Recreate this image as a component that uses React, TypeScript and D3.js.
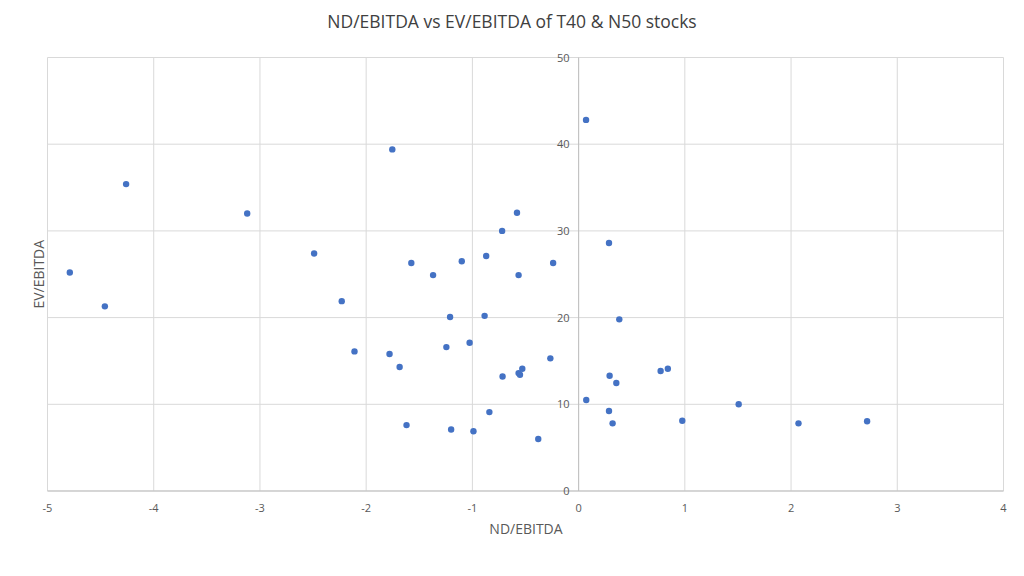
import React from "react";
import * as d3 from "d3";

const ndEbitda = [
  -4.79, -4.46, -4.26, -3.12, -2.49, -2.23, -2.11, -1.754, -1.575, -1.37,
  -1.1, -0.87, -0.58, -0.72, -0.565, -0.24, -1.21, -0.885, -1.78, -1.685,
  -1.245, -1.026, -0.266, -0.53, -0.565, -0.552, -0.716, -0.84, -1.62, -1.2,
  -0.99, -0.38, 0.07, 0.072, 0.286, 0.383, 0.292, 0.355, 0.286, 0.32,
  0.772, 0.84, 0.976, 1.507, 2.07, 2.716,
];
const evEbitda = [
  25.2, 21.3, 35.4, 32.0, 27.4, 21.9, 16.1, 39.4, 26.3, 24.9,
  26.5, 27.1, 32.1, 30.0, 24.9, 26.3, 20.07, 20.2, 15.8, 14.3,
  16.6, 17.1, 15.3, 14.1, 13.6, 13.4, 13.2, 9.1, 7.6, 7.1,
  6.9, 6.0, 42.8, 10.5, 28.6, 19.8, 13.3, 12.45, 9.23, 7.8,
  13.84, 14.1, 8.1, 10.0, 7.8, 8.04,
];
const xTicks = [-5, -4, -3, -2, -1, 0, 1, 2, 3, 4];
const yTicks = [0, 10, 20, 30, 40, 50];

const title = "ND/EBITDA vs EV/EBITDA of T40 & N50 stocks";
const xTitle = "ND/EBITDA";
const yTitle = "EV/EBITDA";

export default function App() {
  const W = 1024;
  const H = 576;
  const x = d3.scaleLinear().domain([-5, 4]).range([47.5, 1003.5]);
  const y = d3.scaleLinear().domain([0, 50]).range([491, 57.5]);
  const font = "'Open Sans', 'Noto Sans', sans-serif";
  const points = ndEbitda.map((v, i) => ({ x: v, y: evEbitda[i] }));
  return (
    <svg
      width={W}
      height={H}
      style={{ position: "absolute", left: 0, top: 0, background: "#fff" }}
      fontFamily={font}
    >
      <rect width={W} height={H} fill="#fff" />
      <text x={512} y={28} textAnchor="middle" fontSize={17.5} fill="#404040" fontWeight={400}>
        {title}
      </text>
      {xTicks.map((t) => (
        <line key={"gx" + t} x1={x(t)} x2={x(t)} y1={y(0)} y2={y(50)} stroke="#d9d9d9" strokeWidth={1} />
      ))}
      {yTicks.map((t) => (
        <line key={"gy" + t} x1={x(-5)} x2={x(4)} y1={y(t)} y2={y(t)} stroke="#d9d9d9" strokeWidth={1} />
      ))}
      <line x1={x(0)} x2={x(0)} y1={y(0)} y2={y(50)} stroke="#bfbfbf" strokeWidth={1} />
      <line x1={x(-5)} x2={x(4)} y1={y(0)} y2={y(0)} stroke="#bfbfbf" strokeWidth={1} />
      {xTicks.map((t) => (
        <text key={"tx" + t} x={x(t)} y={512} textAnchor="middle" fontSize={11} fill="#595959">
          {t < 0 ? "-" + Math.abs(t) : String(t)}
        </text>
      ))}
      {yTicks.map((t) => (
        <text key={"ty" + t} x={x(0) - 9} y={y(t) + 4} textAnchor="end" fontSize={11} fill="#595959">
          {t}
        </text>
      ))}
      <text x={526} y={534} textAnchor="middle" fontSize={14} fill="#595959">
        {xTitle}
      </text>
      <text
        transform={`translate(44, ${y(25) - 0}) rotate(-90)`}
        textAnchor="middle"
        fontSize={14}
        fill="#595959"
      >
        {yTitle}
      </text>
      {points.map((p, i) => (
        <circle key={i} cx={x(p.x)} cy={y(p.y)} r={3.2} fill="#4472C4" />
      ))}
    </svg>
  );
}
